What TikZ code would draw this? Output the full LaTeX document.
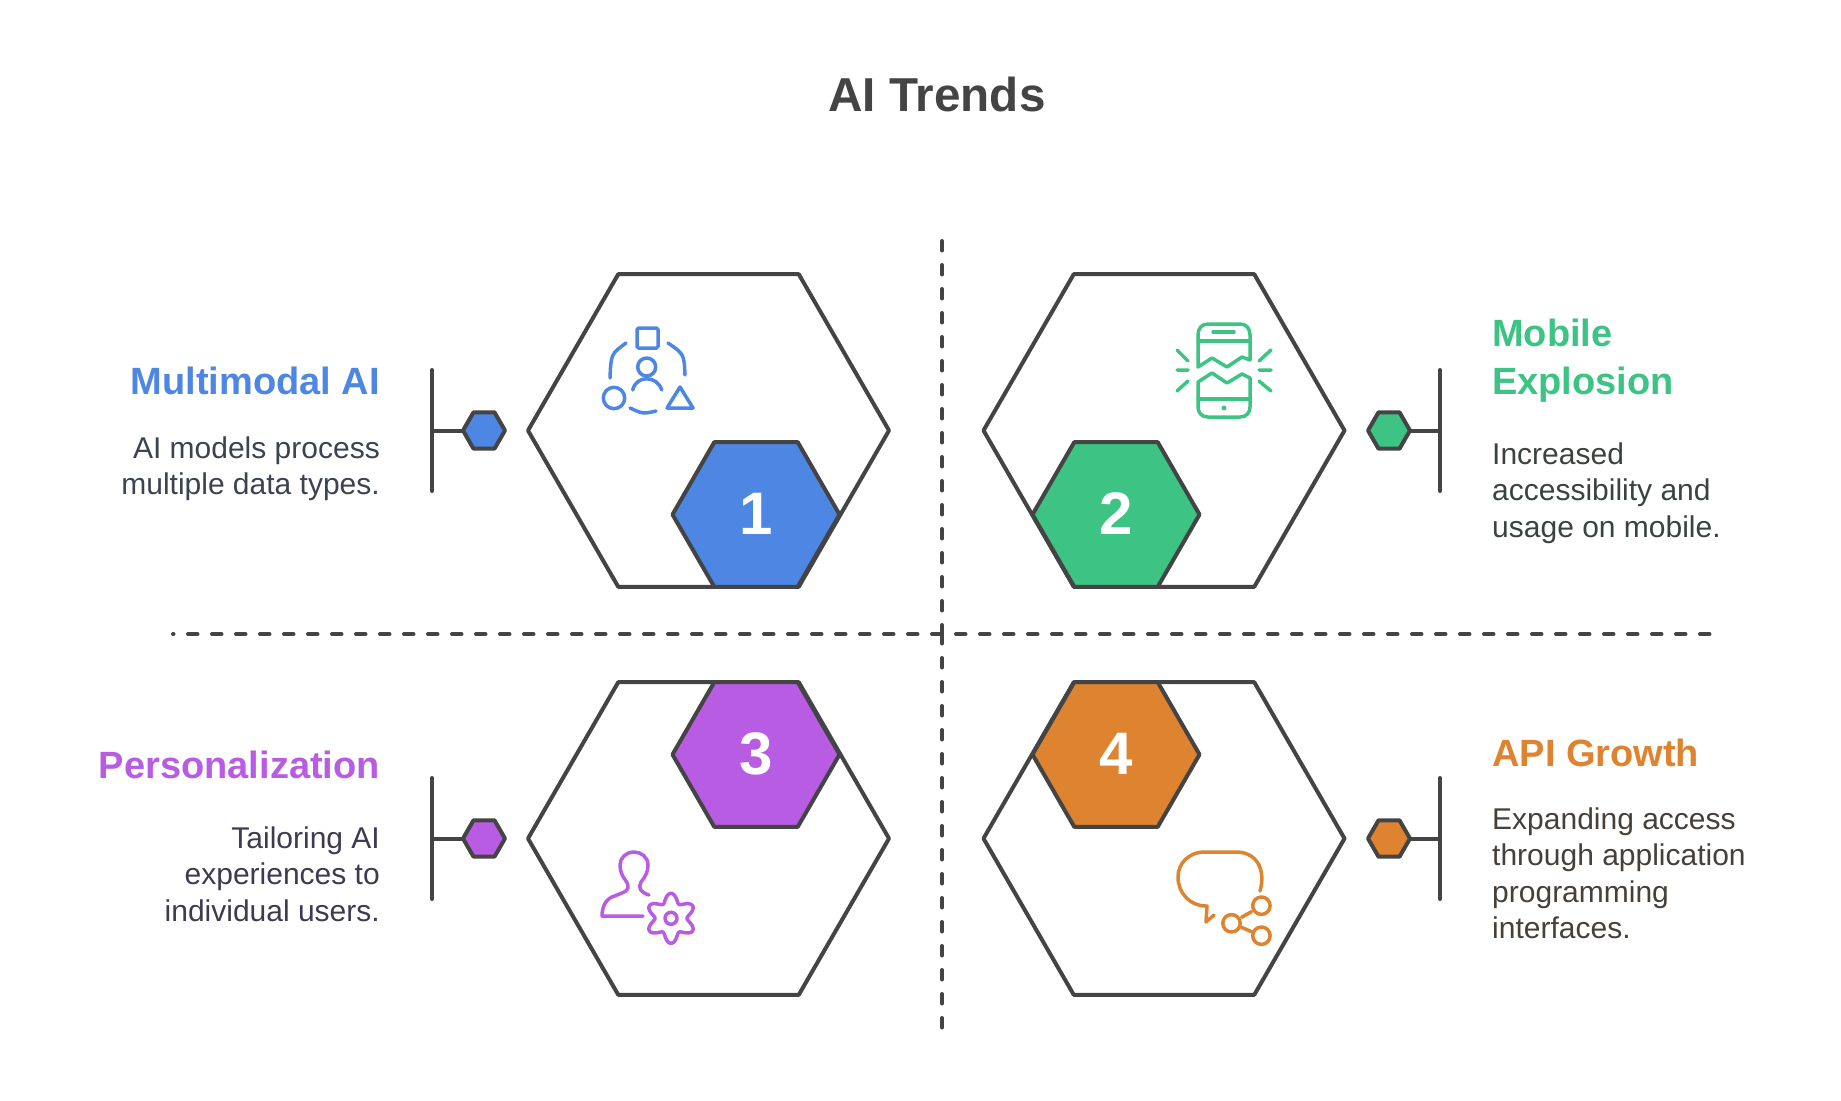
\documentclass[tikz,border=0pt]{standalone}
\usepackage{fontspec}
\setmainfont{Liberation Sans}
\usetikzlibrary{shapes.geometric}
\definecolor{cblue}{HTML}{4E86E4}
\definecolor{cgreen}{HTML}{3DC485}
\definecolor{cpurple}{HTML}{B85CE3}
\definecolor{corange}{HTML}{DE8430}
\definecolor{cdark}{HTML}{444444}
\definecolor{tblue}{HTML}{3C4350}
\definecolor{tgreen}{HTML}{3A433E}
\definecolor{tpurple}{HTML}{3F3A50}
\definecolor{torange}{HTML}{47403A}
\tikzset{
  hexbase/.style={regular polygon, regular polygon sides=6, inner sep=0pt, outer sep=0pt, draw=cdark, line width=4pt, line join=round},
  bighex/.style={hexbase, fill=white, minimum size=361pt},
  numhex/.style={hexbase, minimum size=167pt, text=white, font=\bfseries\fontsize{60}{60}\selectfont},
  dothex/.style={hexbase, minimum size=42pt},
  headtext/.style={font=\bfseries\fontsize{38}{48}\selectfont, inner sep=0pt},
  desctext/.style={font=\fontsize{30}{36.3}\selectfont, inner sep=0pt},
  icon/.style={line width=3.5pt, line cap=round, line join=round},
  sepline/.style={cdark, line width=4pt, line cap=round, dash pattern=on 9.5pt off 14.5pt},
  barline/.style={cdark, line width=4pt, line cap=round}
}
\begin{document}
\begin{tikzpicture}[x=1pt, y=-1pt]
  \useasboundingbox (0,0) rectangle (1841,1100);
  \node[font=\bfseries\fontsize{47.6}{48}\selectfont, text=cdark, inner sep=0pt] (tieude) at (937,94) {AI Trends};
  % duong chia
  \coordinate (Vtop) at (942,241);
  \coordinate (Vmid) at (942,634);
  \coordinate (Vbot) at (942,1033);
  \coordinate (Hleft) at (173,634);
  \coordinate (Hright) at (1714,634);
  \draw[sepline] (Vtop)--(Vmid);
  \draw[sepline] (Vmid)--(Vbot);
  \draw[sepline, dash phase=9pt] (Hleft)--(Hright);
  % luc giac, so, thanh noi
  \foreach \ten/\x/\y/\mau/\nx/\ny/\so/\dx/\bx in {
    A/708.5/430.5/cblue/756/514.5/1/484/432,
    B/1164/430.5/cgreen/1116/514.5/2/1389/1440,
    C/708.5/838.5/cpurple/756/754.5/3/484/432,
    D/1164/838.5/corange/1116/754.5/4/1389/1440}{
    \node[bighex] (hex\ten) at (\x,\y) {};
    \node[numhex, fill=\mau] (num\ten) at (\nx,\ny) {\raisebox{1pt}{\so}};
    \coordinate (bar\ten top) at (\bx,\y-60.5);
    \coordinate (bar\ten bot) at (\bx,\y+60.5);
    \coordinate (bar\ten mid) at (\bx,\y);
    \draw[barline] (bar\ten top)--(bar\ten bot);
    \node[dothex, fill=\mau] (dot\ten) at (\dx,\y) {};
    \draw[barline] (bar\ten mid)--(dot\ten);
  }
  % chu ben trai
  \node[headtext, text=cblue, anchor=base east] (headA) at (380,394) {Multimodal AI};
  \node[desctext, text=tblue, anchor=base east, align=right] (descA) at (380,494.5) {AI models process\\multiple data types.};
  \node[headtext, text=cpurple, anchor=base east] (headC) at (380,778) {Personalization};
  \node[desctext, text=tpurple, anchor=base east, align=right] (descC) at (380,921) {Tailoring AI\\experiences to\\individual users.};
  % chu ben phai
  \node[headtext, text=cgreen, anchor=base west, align=left] (headB) at (1492,394) {Mobile\\Explosion};
  \node[desctext, text=tgreen, anchor=base west, align=left] (descB) at (1492,537) {Increased\\accessibility and\\usage on mobile.};
  \node[headtext, text=corange, anchor=base west] (headD) at (1492,766) {API Growth};
  \node[desctext, text=torange, anchor=base west, align=left] (descD) at (1492,938.5) {Expanding access\\through application\\programming\\interfaces.};
  % icon 1
  \begin{scope}[icon, draw=cblue]
    \draw[rounded corners=1.5pt] (637,328) rectangle (658,348);
    \draw (646.7,367) circle(9pt);
    \draw (632.7,390) .. controls (636,375) and (657,375) .. (661.7,390);
    \draw (614,398) circle(10.7pt);
    \draw (680,387)--(693,408)--(667,408)--cycle;
    \draw (626,343) .. controls (611,354) .. (610,378);
    \draw (668,343) .. controls (684,354) .. (685,375);
    \draw (630,408) .. controls (643,414) .. (656,411);
  \end{scope}
  % icon 2
  \begin{scope}[icon, draw=cgreen]
    \draw (1198,367)--(1212,358)--(1227,367)--(1242,357)--(1250,360)--(1250,335) .. controls (1250,328) and (1246,324) .. (1240,324)--(1208,324) .. controls (1202,324) and (1198,328) .. (1198,335)--cycle;
    \draw (1198,341)--(1250,341);
    \draw (1213,332)--(1234,332);
    \draw (1198,382)--(1212,373)--(1227,383)--(1242,374)--(1250,378)--(1250,407) .. controls (1250,413) and (1246,417) .. (1240,417)--(1208,417) .. controls (1202,417) and (1198,413) .. (1198,407)--cycle;
    \draw (1198,399)--(1250,399);
    \fill[cgreen] (1224,408) circle(2.5pt);
    \draw (1177,350)--(1188,361) (1177,370)--(1188,370) (1177,391)--(1188,381);
    \draw (1271,350)--(1259,361) (1271,370)--(1259,370) (1271,391)--(1259,381);
  \end{scope}
  % icon 3
  \begin{scope}[icon, draw=cpurple]
    \draw (649,895) .. controls (640,892) and (638,888) .. (641,882) .. controls (646,876) and (648,871) .. (648,865) .. controls (648,857) and (641,852) .. (634,852) .. controls (626,852) and (620,858) .. (620,865) .. controls (620,871) and (622,876) .. (626,881) .. controls (630,887) and (628,891) .. (622,893)--(612,897) .. controls (605,900) and (602,908) .. (602,916)--(643,916);
    \draw plot[domain=0:360, samples=121, smooth] ({671+(20.5+4.5*cos(6*\x))*sin(\x)},{918.3+(20.5+4.5*cos(6*\x))*cos(\x)});
    \draw (671,918.3) circle(6pt);
  \end{scope}
  % icon 4
  \begin{scope}[icon, draw=corange]
    \draw (1260,891) .. controls (1266,870) and (1257,852) .. (1236,852)--(1205,852) .. controls (1188,852) and (1178,864) .. (1178,877) .. controls (1178,893) and (1190,906) .. (1206,906)--(1207,906)--(1206,922)--(1214,915);
    \foreach \cx/\cy in {1261.4/905.7,1231.5/923.3,1261.4/935.7} \draw (\cx,\cy) circle(8.7pt);
    \draw (1241.5,917.3)--(1251.5,911.7) (1241.5,927.3)--(1251.5,931.7);
  \end{scope}
\end{tikzpicture}
\end{document}
